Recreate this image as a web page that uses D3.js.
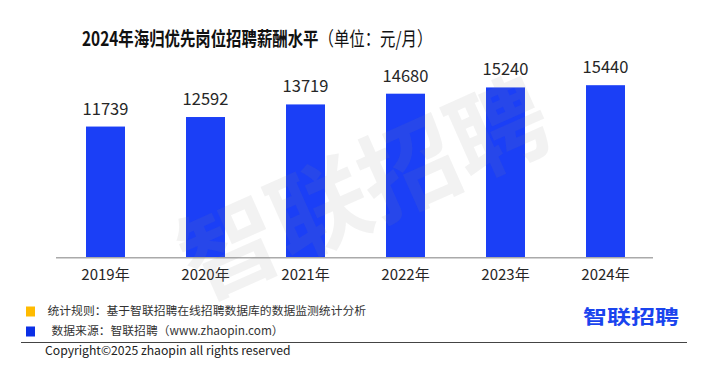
<!DOCTYPE html>
<html>
<head>
<meta charset="utf-8">
<script src="https://cdn.jsdelivr.net/npm/d3@7"></script>
<style>
  body { margin: 0; background: #fff; }
  svg { display: block; font-family: "Noto Sans CJK SC", "Noto Sans", sans-serif; }
</style>
</head>
<body>
<svg width="707" height="369"></svg>
<script>
// data
const years = ['2019年', '2020年', '2021年', '2022年', '2023年', '2024年'];
const salary = [11739, 12592, 13719, 14680, 15240, 15440];
const notes = ['统计规则：基于智联招聘在线招聘数据库的数据监测统计分析', '数据来源：智联招聘（www.zhaopin.com）'];
const noteColors = ['#ffbb00', '#0b2fe6'];

const svg = d3.select('svg');

const x = d3.scaleBand()
    .domain(years)
    .range([55.5, 655.5])
    .paddingInner(0.61)
    .paddingOuter(0.305);

const y = d3.scaleLinear()
    .domain([0, 18000])
    .range([257.7, 56.6]);

/**
 * Title.
 */
const title = svg.append('text')
    .attr('transform', 'translate(82,40.5) scale(0.79,1)')
    .attr('dominant-baseline', 'middle')
    .attr('font-size', 19.5)
    .attr('fill', '#111');
title.append('tspan').attr('font-weight', 'bold').text('2024年海归优先岗位招聘薪酬水平');
title.append('tspan').attr('font-weight', 'normal').text('（单位：元/月）');

/**
 * Bars.
 */
svg.append('g')
    .selectAll('rect')
    .data(salary)
    .enter()
    .append('rect')
    .attr('x', (d, i) => x(years[i]))
    .attr('y', d => y(d))
    .attr('width', x.bandwidth())
    .attr('height', d => y(0) - y(d))
    .attr('fill', '#1b3ff6');

svg.append('g')
    .selectAll('text')
    .data(salary)
    .enter()
    .append('text')
    .attr('x', (d, i) => x(years[i]) + x.bandwidth() / 2)
    .attr('y', d => y(d) - 12)
    .attr('text-anchor', 'middle')
    .attr('font-size', 16.5)
    .attr('fill', '#262626')
    .text(d => d);

/**
 * Axis.
 */
const axis = svg.append('g')
    .attr('transform', `translate(0,${y(0)})`)
    .call(d3.axisBottom(x).tickSize(0).tickPadding(12));
axis.select('.domain')
    .attr('d', 'M56,0H653')
    .attr('stroke', '#aaa')
    .attr('stroke-width', 1.5);
axis.selectAll('text')
    .attr('font-family', '"Noto Sans CJK SC", sans-serif')
    .attr('font-size', 15)
    .attr('fill', '#262626');

/**
 * Watermark.
 */
svg.append('text')
    .attr('transform', 'translate(368,197) rotate(-24)')
    .attr('text-anchor', 'middle')
    .attr('dominant-baseline', 'middle')
    .attr('font-size', 98)
    .attr('font-weight', 'bold')
    .attr('fill', '#888')
    .attr('fill-opacity', 0.11)
    .text('智联招聘');

/**
 * Notes.
 */
const noteG = svg.append('g');
noteG.selectAll('rect')
    .data(notes)
    .enter()
    .append('rect')
    .attr('x', 26)
    .attr('y', (d, i) => 306.5 + i * 20)
    .attr('width', 9)
    .attr('height', 10)
    .attr('fill', (d, i) => noteColors[i]);
noteG.selectAll('text')
    .data(notes)
    .enter()
    .append('text')
    .attr('x', (d, i) => i ? 51.5 : 47.5)
    .attr('y', (d, i) => 312 + i * 20)
    .attr('dominant-baseline', 'middle')
    .attr('font-size', 11.8)
    .attr('fill', '#333')
    .text(d => d);

svg.append('line')
    .attr('x1', 21).attr('x2', 687)
    .attr('y1', 342.5).attr('y2', 342.5)
    .attr('stroke', '#444')
    .attr('stroke-width', 1.2);

svg.append('text')
    .attr('x', 45)
    .attr('y', 352)
    .attr('dominant-baseline', 'middle')
    .attr('font-size', 12.2)
    .attr('fill', '#222')
    .text('Copyright©2025 zhaopin all rights reserved');

/**
 * Logo.
 */
svg.append('text')
    .attr('transform', 'translate(631,319) scale(1,0.82)')
    .attr('text-anchor', 'middle')
    .attr('dominant-baseline', 'middle')
    .attr('font-size', 24)
    .attr('font-weight', 'bold')
    .attr('fill', '#1a44ee')
    .text('智联招聘');
</script>
</body>
</html>
